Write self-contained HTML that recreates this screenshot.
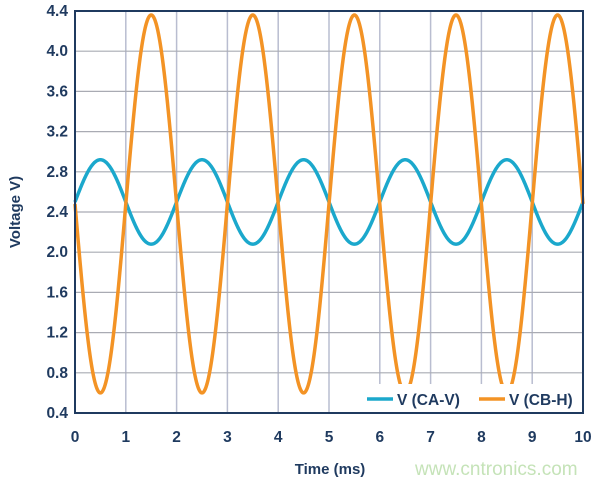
<!DOCTYPE html>
<html><head><meta charset="utf-8"><style>
html,body{margin:0;padding:0;background:#fff;}
svg{display:block;font-family:"Liberation Sans",sans-serif;font-weight:bold;}
</style></head><body>
<svg id="s" width="600" height="484" viewBox="0 0 600 484">
<g id="grid"></g>
<path id="blue" fill="none" stroke="#1ba8cc" stroke-width="3.5"/>
<path id="orange" fill="none" stroke="#f39325" stroke-width="3.5"/>
<rect x="360" y="384" width="222" height="28" fill="#fff"/>
<line x1="367" y1="399" x2="393" y2="399" stroke="#1ba8cc" stroke-width="3.5"/>
<text x="397" y="405" font-size="15.5" fill="#1f3a5f">V (CA-V)</text>
<line x1="479" y1="399" x2="505" y2="399" stroke="#f39325" stroke-width="3.5"/>
<text x="509" y="405" font-size="15.5" fill="#1f3a5f">V (CB-H)</text>
<rect x="75" y="11" width="508" height="402" fill="none" stroke="#1f3a5f" stroke-width="2"/>
<g id="lab" font-size="15.5" fill="#1f3a5f"></g>
<text x="330" y="474" font-size="15" fill="#1f3a5f" text-anchor="middle">Time (ms)</text>
<text transform="translate(20,212) rotate(-90)" font-size="15" fill="#1f3a5f" text-anchor="middle">Voltage V)</text>
<text x="415" y="475" font-size="19" fill="#c5e3b8" font-weight="normal">www.cntronics.com</text>
</svg>
<script>
var X=t=>75+t*50.8, Y=v=>413-(v-0.4)*100.5;
var g=document.getElementById('grid'),l=document.getElementById('lab'),h='',lh='';
for(var i=1;i<10;i++)h+='<line x1="'+X(i)+'" y1="11" x2="'+X(i)+'" y2="413" stroke="#b9bdd0" stroke-width="1.5"/>';
for(var j=1;j<10;j++){var v=0.4+j*0.4;h+='<line x1="75" y1="'+Y(v)+'" x2="583" y2="'+Y(v)+'" stroke="#a9abb3" stroke-width="1.2"/>';}
g.innerHTML=h;
for(var j=0;j<=10;j++){var v=(0.4+j*0.4).toFixed(1);lh+='<text x="68" y="'+(Y(+v)+5)+'" text-anchor="end">'+v+'</text>';}
for(var i=0;i<=10;i++)lh+='<text x="'+X(i)+'" y="442" text-anchor="middle">'+i+'</text>';
l.innerHTML=lh;
var b='',o='';
for(var k=0;k<=1000;k++){var t=k/100;b+=(k?'L':'M')+X(t).toFixed(2)+' '+Y(2.5+0.42*Math.sin(Math.PI*t)).toFixed(2);
o+=(k?'L':'M')+X(t).toFixed(2)+' '+Y(2.48-1.88*Math.sin(Math.PI*t)).toFixed(2);}
document.getElementById('blue').setAttribute('d',b);
document.getElementById('orange').setAttribute('d',o);
</script>
</body></html>
